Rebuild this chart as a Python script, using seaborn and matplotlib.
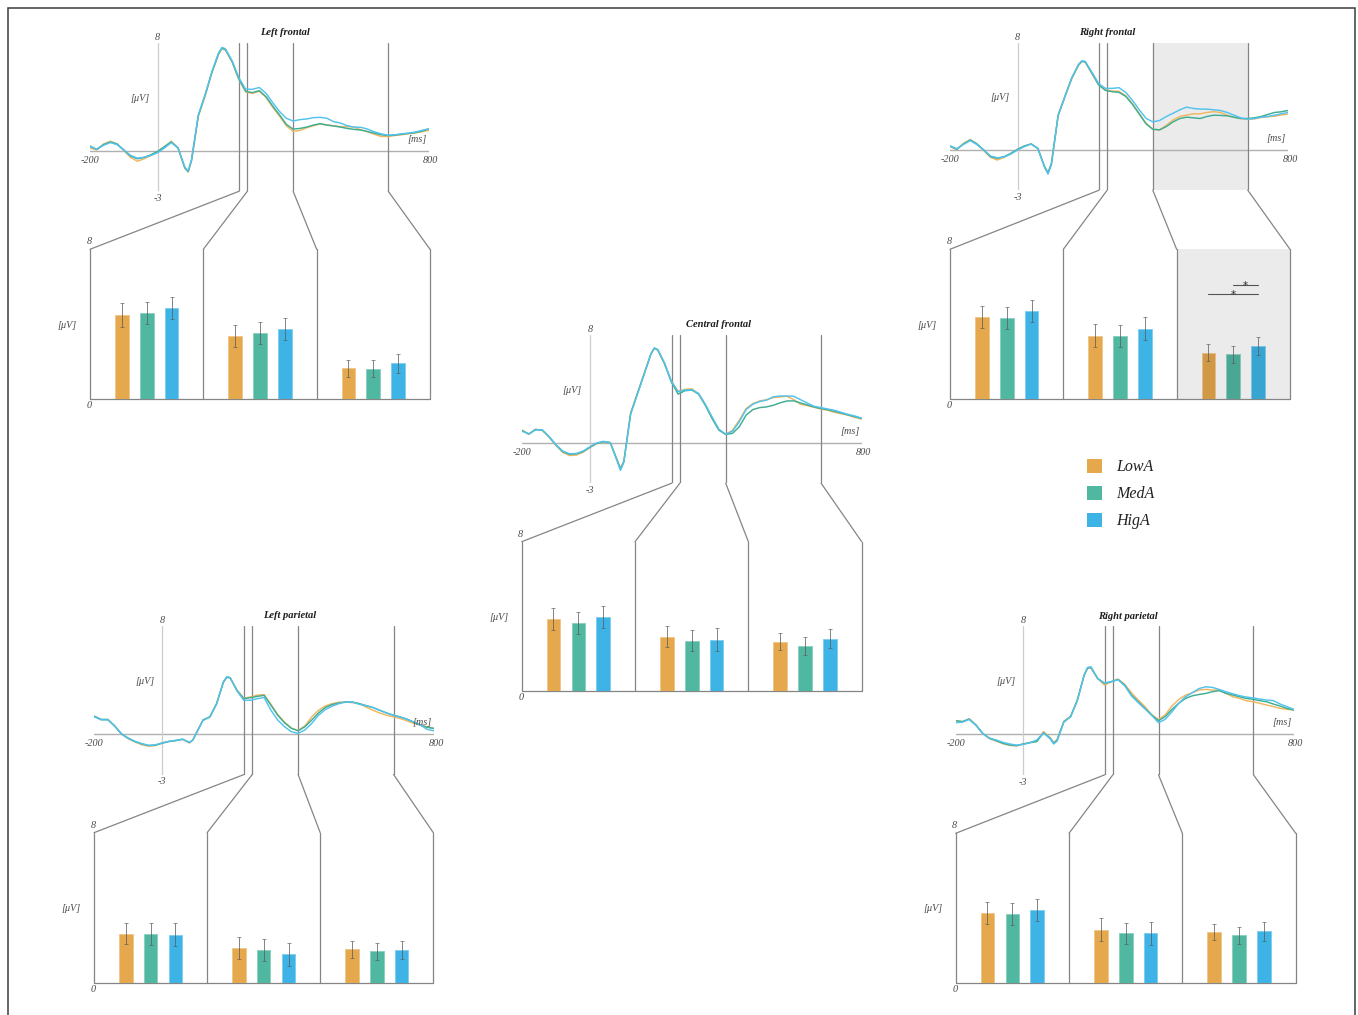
import numpy as np
import pandas as pd
import matplotlib
matplotlib.use("Agg")
import matplotlib.pyplot as plt
from matplotlib.patches import Patch, Rectangle, ConnectionPatch
from matplotlib.colors import to_rgb
import seaborn as sns

# ---------------------------------------------------------------- data
CONDITIONS = ["LowA", "MedA", "HigA"]
WINDOWS = ["early", "middle", "late"]
WINDOW_EDGES_MS = [241, 265, 400, 681]

TIME_MS = [-200, -180, -160, -140, -120, -100, -80, -60, -40, -20, 0, 20, 40, 60,
           80, 90, 100, 120, 140, 160, 180, 190, 200,
           220, 240, 260, 280, 300, 320, 340, 360, 380, 400,
           420, 440, 460, 480, 500, 520, 540, 560, 580, 600,
           620, 640, 660, 680, 700, 720, 740, 760, 780, 800]

# grand-average ERPs (µV)
lf_low = [0.20, 0.05, 0.50, 0.70, 0.50, 0.00, -0.50, -0.78, -0.60, -0.35, -0.05, 0.30, 0.70, 0.22,
          -1.30, -1.58, -0.75, 2.55, 4.05, 5.75, 7.15, 7.55, 7.45,
          6.55, 5.25, 4.35, 4.25, 4.40, 3.95, 3.20, 2.55, 1.85, 1.42,
          1.50, 1.70, 1.85, 1.98, 1.90, 1.85, 1.78, 1.78, 1.75, 1.55,
          1.40, 1.22, 1.05, 1.05, 1.12, 1.18, 1.25, 1.32, 1.40, 1.50]
lf_med = [0.35, 0.10, 0.45, 0.65, 0.50, 0.05, -0.40, -0.60, -0.50, -0.30, -0.05, 0.30, 0.65, 0.20,
          -1.25, -1.55, -0.70, 2.60, 4.10, 5.80, 7.20, 7.60, 7.50,
          6.60, 5.30, 4.40, 4.30, 4.45, 4.00, 3.30, 2.65, 1.95, 1.60,
          1.65, 1.75, 1.90, 2.00, 1.90, 1.83, 1.75, 1.65, 1.58, 1.53,
          1.42, 1.30, 1.18, 1.12, 1.15, 1.22, 1.28, 1.33, 1.45, 1.60]
lf_hig = [0.30, 0.10, 0.40, 0.60, 0.45, 0.05, -0.35, -0.55, -0.48, -0.35, -0.15, 0.20, 0.60, 0.20,
          -1.20, -1.50, -0.65, 2.65, 4.15, 5.85, 7.25, 7.65, 7.55,
          6.65, 5.40, 4.55, 4.55, 4.68, 4.25, 3.55, 2.90, 2.40, 2.20,
          2.30, 2.35, 2.45, 2.47, 2.40, 2.15, 2.05, 1.85, 1.75, 1.73,
          1.60, 1.40, 1.25, 1.15, 1.18, 1.25, 1.30, 1.38, 1.50, 1.62]

rf_low = [0.25, 0.05, 0.50, 0.78, 0.45, -0.05, -0.55, -0.75, -0.55, -0.28, 0.05, 0.30, 0.45, 0.12,
          -1.30, -1.72, -1.05, 2.55, 3.95, 5.30, 6.30, 6.60, 6.55,
          5.70, 4.85, 4.48, 4.40, 4.38, 4.05, 3.45, 2.72, 2.00, 1.55,
          1.50, 1.85, 2.24, 2.50, 2.60, 2.70, 2.70, 2.80, 2.86, 2.80,
          2.60, 2.44, 2.34, 2.30, 2.32, 2.42, 2.48, 2.52, 2.62, 2.68]
rf_med = [0.30, 0.05, 0.45, 0.75, 0.45, 0.00, -0.50, -0.62, -0.50, -0.25, 0.05, 0.30, 0.45, 0.12,
          -1.25, -1.70, -1.00, 2.60, 4.00, 5.35, 6.35, 6.62, 6.58,
          5.72, 4.85, 4.45, 4.35, 4.30, 4.00, 3.40, 2.68, 1.95, 1.55,
          1.50, 1.75, 2.10, 2.35, 2.45, 2.40, 2.35, 2.50, 2.60, 2.58,
          2.55, 2.45, 2.35, 2.35, 2.40, 2.50, 2.65, 2.80, 2.85, 2.95]
rf_hig = [0.30, 0.10, 0.42, 0.70, 0.40, 0.00, -0.45, -0.58, -0.52, -0.30, 0.00, 0.25, 0.45, 0.12,
          -1.30, -1.80, -1.10, 2.60, 4.00, 5.38, 6.38, 6.65, 6.62,
          5.80, 4.95, 4.60, 4.60, 4.65, 4.30, 3.70, 3.00, 2.36, 2.10,
          2.20, 2.50, 2.74, 3.00, 3.20, 3.10, 3.05, 3.05, 3.00, 2.95,
          2.80, 2.60, 2.40, 2.30, 2.35, 2.45, 2.50, 2.60, 2.70, 2.80]

cf_low = [0.95, 0.62, 1.00, 0.90, 0.40, -0.20, -0.72, -0.95, -0.92, -0.70, -0.36, -0.08, 0.08, 0.02,
          -1.25, -1.90, -1.35, 2.20, 3.68, 5.15, 6.60, 7.00, 6.85,
          5.85, 4.55, 3.80, 3.95, 4.00, 3.62, 2.80, 1.82, 0.95, 0.62,
          0.93, 1.67, 2.53, 2.90, 3.09, 3.19, 3.34, 3.39, 3.44, 3.20,
          2.85, 2.75, 2.62, 2.50, 2.40, 2.25, 2.15, 2.04, 1.88, 1.75]
cf_med = [0.90, 0.64, 0.98, 0.93, 0.44, -0.17, -0.66, -0.86, -0.83, -0.66, -0.34, -0.05, 0.07, 0.00,
          -1.28, -1.95, -1.40, 2.16, 3.63, 5.10, 6.58, 7.00, 6.87,
          5.84, 4.49, 3.60, 3.85, 3.90, 3.60, 2.77, 1.79, 0.93, 0.61,
          0.69, 1.18, 2.04, 2.45, 2.60, 2.65, 2.77, 2.95, 3.09, 3.10,
          2.95, 2.80, 2.65, 2.53, 2.45, 2.33, 2.20, 2.06, 1.93, 1.80]
cf_hig = [0.85, 0.66, 0.95, 0.95, 0.45, -0.15, -0.62, -0.82, -0.80, -0.62, -0.30, -0.02, 0.10, 0.00,
          -1.35, -2.05, -1.45, 2.10, 3.60, 5.08, 6.60, 7.02, 6.90,
          5.90, 4.55, 3.78, 3.90, 3.92, 3.65, 2.85, 1.90, 1.00, 0.62,
          0.85, 1.55, 2.45, 2.85, 3.05, 3.15, 3.40, 3.46, 3.46, 3.44,
          3.19, 2.94, 2.70, 2.60, 2.50, 2.40, 2.25, 2.10, 1.98, 1.82]

lp_low = [1.30, 1.06, 1.06, 0.58, 0.00, -0.35, -0.60, -0.80, -0.90, -0.85, -0.66, -0.54, -0.48, -0.40,
          -0.66, -0.45, 0.05, 1.05, 1.25, 2.25, 3.82, 4.20, 4.15,
          3.25, 2.65, 2.75, 2.88, 2.92, 2.20, 1.45, 0.88, 0.45, 0.25,
          0.60, 1.27, 1.76, 2.08, 2.25, 2.35, 2.37, 2.32, 2.25, 2.00,
          1.76, 1.56, 1.39, 1.27, 1.15, 0.98, 0.78, 0.66, 0.54, 0.40]
lp_med = [1.32, 1.08, 1.08, 0.59, 0.00, -0.32, -0.56, -0.73, -0.86, -0.83, -0.68, -0.56, -0.49, -0.39,
          -0.64, -0.44, 0.05, 1.03, 1.27, 2.25, 3.84, 4.20, 4.16,
          3.23, 2.62, 2.69, 2.79, 2.86, 2.13, 1.39, 0.83, 0.42, 0.24,
          0.54, 1.03, 1.56, 1.96, 2.18, 2.30, 2.37, 2.37, 2.25, 2.10,
          1.96, 1.76, 1.56, 1.39, 1.27, 1.10, 0.88, 0.66, 0.49, 0.42]
lp_hig = [1.28, 1.05, 1.05, 0.60, 0.02, -0.30, -0.55, -0.72, -0.84, -0.80, -0.66, -0.54, -0.47, -0.38,
          -0.62, -0.45, 0.05, 1.00, 1.25, 2.22, 3.86, 4.25, 4.18,
          3.20, 2.50, 2.50, 2.62, 2.70, 1.76, 1.03, 0.54, 0.17, 0.05,
          0.30, 0.78, 1.39, 1.81, 2.06, 2.25, 2.37, 2.37, 2.20, 2.10,
          1.96, 1.76, 1.56, 1.39, 1.25, 1.10, 0.90, 0.66, 0.34, 0.24]

rp_low = [1.01, 0.94, 1.15, 0.69, 0.05, -0.32, -0.50, -0.70, -0.82, -0.86, -0.72, -0.60, -0.50, 0.20,
          -0.28, -0.62, -0.40, 0.96, 1.33, 2.56, 4.35, 4.88, 4.92,
          4.12, 3.65, 3.89, 4.10, 3.70, 3.08, 2.54, 2.05, 1.45, 1.10,
          1.45, 2.10, 2.58, 2.90, 3.08, 3.28, 3.33, 3.28, 3.28, 3.03,
          2.78, 2.66, 2.49, 2.41, 2.29, 2.17, 2.05, 1.92, 1.85, 1.80]
rp_med = [1.01, 0.94, 1.13, 0.69, 0.07, -0.30, -0.47, -0.67, -0.79, -0.84, -0.71, -0.62, -0.54, 0.12,
          -0.30, -0.67, -0.42, 0.94, 1.31, 2.54, 4.38, 4.90, 4.95,
          4.14, 3.77, 3.89, 4.06, 3.65, 2.91, 2.41, 1.92, 1.43, 1.01,
          1.31, 1.85, 2.30, 2.66, 2.85, 2.95, 3.03, 3.16, 3.23, 3.03,
          2.91, 2.78, 2.66, 2.59, 2.49, 2.41, 2.24, 2.09, 1.92, 1.80]
rp_hig = [0.86, 0.90, 1.10, 0.65, 0.05, -0.28, -0.42, -0.60, -0.72, -0.80, -0.75, -0.62, -0.42, 0.10,
          -0.35, -0.72, -0.50, 0.90, 1.30, 2.50, 4.40, 4.95, 5.00,
          4.14, 3.80, 3.90, 4.05, 3.60, 2.85, 2.35, 1.88, 1.40, 0.86,
          1.11, 1.67, 2.30, 2.78, 3.08, 3.39, 3.52, 3.47, 3.32, 3.15,
          3.00, 2.86, 2.76, 2.69, 2.61, 2.54, 2.49, 2.24, 2.05, 1.85]

# mean amplitude per time window (µV) and standard errors
lf_mean_low, lf_mean_med, lf_mean_hig = [4.50, 3.39, 1.65], [4.59, 3.54, 1.63], [4.87, 3.75, 1.92]
lf_se_low, lf_se_med, lf_se_hig = [0.62, 0.58, 0.44], [0.59, 0.57, 0.46], [0.60, 0.59, 0.50]

rf_mean_low, rf_mean_med, rf_mean_hig = [4.37, 3.39, 2.48], [4.35, 3.38, 2.39], [4.69, 3.76, 2.85]
rf_se_low, rf_se_med, rf_se_hig = [0.60, 0.60, 0.46], [0.59, 0.59, 0.46], [0.59, 0.62, 0.48]

cf_mean_low, cf_mean_med, cf_mean_hig = [3.84, 2.90, 2.63], [3.64, 2.69, 2.39], [3.96, 2.74, 2.80]
cf_se_low, cf_se_med, cf_se_hig = [0.60, 0.57, 0.45], [0.58, 0.57, 0.48], [0.59, 0.61, 0.52]

lp_mean_low, lp_mean_med, lp_mean_hig = [2.61, 1.85, 1.78], [2.60, 1.74, 1.67], [2.56, 1.51, 1.76]
lp_se_low, lp_se_med, lp_se_hig = [0.55, 0.57, 0.46], [0.57, 0.57, 0.46], [0.60, 0.60, 0.48]

rp_mean_low, rp_mean_med, rp_mean_hig = [3.73, 2.84, 2.71], [3.70, 2.65, 2.54], [3.89, 2.65, 2.75]
rp_se_low, rp_se_med, rp_se_hig = [0.59, 0.61, 0.43], [0.59, 0.56, 0.46], [0.60, 0.61, 0.51]

# significant pairwise contrasts: (window, condition a, condition b)
rf_contrasts = [("late", "MedA", "HigA"), ("late", "LowA", "HigA")]

# ---------------------------------------------------------------- style
LINE_PAL = {"LowA": "#F2B660", "MedA": "#3FAD93", "HigA": "#52C2EE"}
BAR_PAL = {"LowA": "#E6A84C", "MedA": "#50B7A1", "HigA": "#3EB4E6"}
FRAME_GREY = "#858585"
AXIS_GREY = "#b0b0b0"
YAXIS_GREY = "#cdcdcd"
SHADE = "#ebebeb"
TEXT_GREY = "#4a4a4a"
ERR_GREY = "#5a5a5a"

W, H = 1358, 1015

sns.set_style("white")
plt.rcParams["font.family"] = ["Liberation Serif", "DejaVu Serif"]
plt.rcParams["mathtext.default"] = "regular"

# panel boxes in pixels: (left, right, top, bottom)
PANELS = {
    "lf": dict(title="Left frontal", title_ms=377,
               erp_box=(90, 428.5, 42.7, 191.2), bar_box=(90, 430, 249.3, 399.3),
               erp=(lf_low, lf_med, lf_hig),
               mean=(lf_mean_low, lf_mean_med, lf_mean_hig), se=(lf_se_low, lf_se_med, lf_se_hig)),
    "rf": dict(title="Right frontal", title_ms=264,
               erp_box=(950, 1288, 42.8, 190.2), bar_box=(950, 1290, 249.3, 399),
               erp=(rf_low, rf_med, rf_hig),
               mean=(rf_mean_low, rf_mean_med, rf_mean_hig), se=(rf_se_low, rf_se_med, rf_se_hig),
               shaded="late", contrasts=rf_contrasts, contrast_y=[6.1, 5.6]),
    "cf": dict(title="Central frontal", title_ms=379,
               erp_box=(522, 861.5, 334.7, 483.2), bar_box=(521.7, 861.7, 541.7, 690.7),
               erp=(cf_low, cf_med, cf_hig),
               mean=(cf_mean_low, cf_mean_med, cf_mean_hig), se=(cf_se_low, cf_se_med, cf_se_hig)),
    "lp": dict(title="Left parietal", title_ms=376,
               erp_box=(94.3, 434, 626, 774.5), bar_box=(94, 433.3, 832.7, 982.7),
               erp=(lp_low, lp_med, lp_hig),
               mean=(lp_mean_low, lp_mean_med, lp_mean_hig), se=(lp_se_low, lp_se_med, lp_se_hig)),
    "rp": dict(title="Right parietal", title_ms=308,
               erp_box=(955.7, 1293.7, 626.3, 774.8), bar_box=(955.7, 1295.7, 833.3, 982.7),
               erp=(rp_low, rp_med, rp_hig),
               mean=(rp_mean_low, rp_mean_med, rp_mean_hig), se=(rp_se_low, rp_se_med, rp_se_hig)),
}


def px_rect(left, right, top, bottom):
    return [left / W, 1 - bottom / H, (right - left) / W, (bottom - top) / H]


def tint(color, amount):
    r, g, b = to_rgb(color)
    return (r + (1 - r) * amount, g + (1 - g) * amount, b + (1 - b) * amount)


def shade(color, factor):
    r, g, b = to_rgb(color)
    return (r * factor, g * factor, b * factor)


LABEL = dict(style="italic", color=TEXT_GREY, fontsize=7.3, annotation_clip=False,
             textcoords="offset pixels")


def draw_panel(fig, p):
    # ---------------- ERP waveform
    ax = fig.add_axes(px_rect(*p["erp_box"]))
    low, med, hig = p["erp"]
    n = len(TIME_MS)
    df = pd.DataFrame({"ms": TIME_MS * 3, "uV": low + med + hig,
                       "cond": np.repeat(CONDITIONS, n)})
    shaded = p.get("shaded")
    if shaded:
        k = WINDOWS.index(shaded)
        ax.axvspan(WINDOW_EDGES_MS[k], WINDOW_EDGES_MS[k + 1], color=SHADE, lw=0, zorder=0)
    ax.axhline(0, color=AXIS_GREY, lw=1.0, zorder=1)
    ax.axvline(0, color=YAXIS_GREY, lw=0.9, zorder=1)
    for t in WINDOW_EDGES_MS:
        ax.axvline(t, color=FRAME_GREY, lw=0.9, zorder=1.5)
    sns.lineplot(data=df, x="ms", y="uV", hue="cond", hue_order=CONDITIONS,
                 palette=LINE_PAL, estimator=None, legend=False, lw=1.05, ax=ax, zorder=2)
    ax.set_xlim(-200, 800)
    ax.set_ylim(-3, 8)
    ax.set_axis_off()

    ax.annotate("8", (0, 8), xytext=(0, 1), ha="center", va="bottom", **LABEL)
    ax.annotate("-3", (0, -3), xytext=(0, -3), ha="center", va="top", **LABEL)
    ax.annotate("-200", (-200, 0), xytext=(0, -5), ha="center", va="top", **LABEL)
    ax.annotate("800", (800, 0), xytext=(2, -5), ha="center", va="top", **LABEL)
    ax.annotate("[μV]", (-52, 3.9), xytext=(0, 0), ha="center", va="center", **LABEL)
    ax.annotate("[ms]", (765, 0.85), xytext=(0, 0), ha="center", va="center", **LABEL)
    ax.annotate(p["title"], (p["title_ms"], 8.75), xytext=(0, 0), ha="center", va="center",
                style="italic", weight="bold", color="#1e1e1e", fontsize=7.6,
                annotation_clip=False, textcoords="offset pixels")

    # ---------------- window means
    axb = fig.add_axes(px_rect(*p["bar_box"]))
    mlow, mmed, mhig = p["mean"]
    dfb = pd.DataFrame({"window": WINDOWS * 3, "uV": mlow + mmed + mhig,
                        "cond": np.repeat(CONDITIONS, len(WINDOWS))})
    if shaded:
        k = WINDOWS.index(shaded)
        axb.axvspan(k - 0.5, k + 0.5, color=SHADE, lw=0, zorder=0)
    sns.barplot(data=dfb, x="window", y="uV", hue="cond", order=WINDOWS, hue_order=CONDITIONS,
                palette=BAR_PAL, width=0.66, gap=0.45, errorbar=None, saturation=1,
                legend=False, ax=axb, zorder=2)
    se = dict(zip(CONDITIONS, p["se"]))
    centers = {}
    for cont, cond in zip(axb.containers, CONDITIONS):
        xs, hs = [], []
        for i, patch in enumerate(cont.patches):
            face = BAR_PAL[cond]
            if shaded and WINDOWS[i] == shaded:
                face = shade(face, 0.91)
            patch.set_facecolor(face)
            patch.set_edgecolor(tint(face, 0.35))
            patch.set_linewidth(0.7)
            xs.append(patch.get_x() + patch.get_width() / 2)
            hs.append(patch.get_height())
        centers[cond] = xs
        axb.errorbar(xs, hs, yerr=se[cond], fmt="none", ecolor=ERR_GREY, alpha=0.75,
                     elinewidth=0.7, capsize=1.5, capthick=0.6, zorder=3)

    for edge in (-0.5, 0.5, 1.5, 2.5):
        axb.axvline(edge, color=FRAME_GREY, lw=0.9, zorder=1, clip_on=False)
    axb.axhline(0, color=FRAME_GREY, lw=0.9, zorder=1, clip_on=False)
    axb.set_xlim(-0.5, 2.5)
    axb.set_ylim(0, 8)
    axb.set_axis_off()

    axb.annotate("8", (-0.5, 8), xytext=(-1, 3), ha="center", va="bottom", **LABEL)
    axb.annotate("0", (-0.5, 0), xytext=(-1, -2), ha="center", va="top", **LABEL)
    axb.annotate("[μV]", (-0.5, 3.95), xytext=(-23, 0), ha="center", va="center", **LABEL)

    for (win, a, b), y in zip(p.get("contrasts", []), p.get("contrast_y", [])):
        k = WINDOWS.index(win)
        xa, xb = centers[a][k], centers[b][k]
        axb.plot([xa, xb], [y, y], color="#555555", lw=0.8, zorder=3)
        axb.annotate("*", ((xa + xb) / 2, y), xytext=(0, -4), ha="center", va="baseline",
                     color="#2a2a2a", fontsize=7.5, annotation_clip=False,
                     family=["DejaVu Sans"], textcoords="offset pixels")

    # connectors from each window edge to the bar frame
    for t, edge in zip(WINDOW_EDGES_MS, (-0.5, 0.5, 1.5, 2.5)):
        con = ConnectionPatch(xyA=(t, -3), coordsA=ax.transData,
                              xyB=(edge, 8), coordsB=axb.transData,
                              color=FRAME_GREY, lw=0.9)
        fig.add_artist(con)


fig = plt.figure(figsize=(W / 100, H / 100), dpi=100)
fig.patch.set_facecolor("white")

for key in ("lf", "rf", "cf", "lp", "rp"):
    draw_panel(fig, PANELS[key])

handles = [Patch(facecolor=BAR_PAL[c], edgecolor="none") for c in CONDITIONS]
fig.legend(handles, CONDITIONS, loc="upper left",
           bbox_to_anchor=(1087 / W, 1 - 459 / H), frameon=False,
           prop=dict(family=["Liberation Serif", "DejaVu Serif"], style="italic", size=11.5),
           labelcolor="#222222", handlelength=0.95, handleheight=0.95,
           handletextpad=0.85, labelspacing=0.66, borderpad=0, borderaxespad=0)

fig.add_artist(Rectangle((8 / W, -0.02), (1355 - 8) / W, 1 - 8 / H + 0.02,
                         transform=fig.transFigure, fill=False, ec="#3c3c3c", lw=1.1))

fig.savefig("out.png", dpi=100)
